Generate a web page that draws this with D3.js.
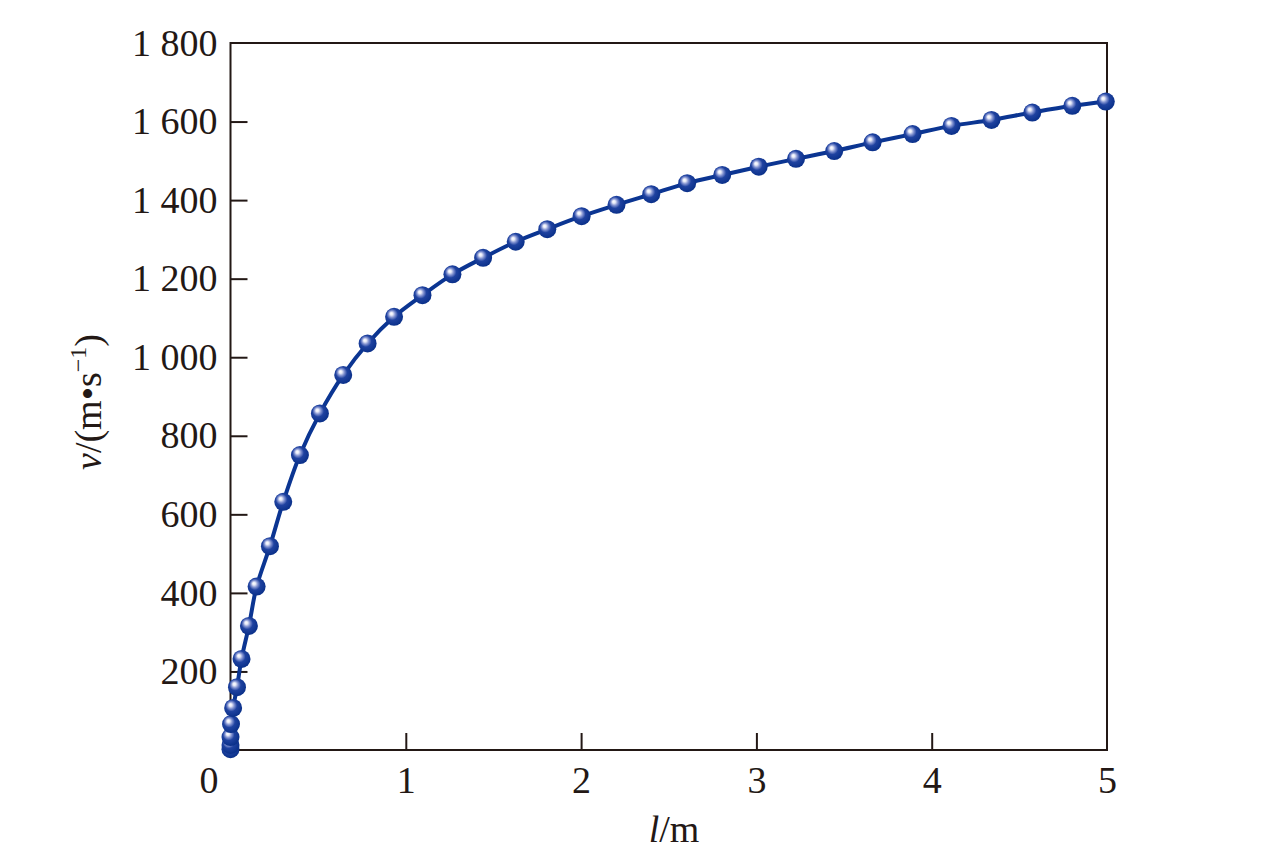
<!DOCTYPE html>
<html>
<head>
<meta charset="utf-8">
<script src="https://cdn.jsdelivr.net/npm/d3@7"></script>
<style>
  html, body { margin: 0; padding: 0; background: #fff; }
  svg { display: block; }
  text { font-family: "Liberation Serif", "Times New Roman", Times, serif; fill: #231815; }
</style>
</head>
<body>
<svg id="chart" width="1276" height="849"></svg>
<script>
// Data
const lengths = [0, 0, 0, 0.003, 0.015, 0.037, 0.063, 0.105, 0.149, 0.225, 0.301, 0.396, 0.510, 0.643, 0.782, 0.933, 1.095, 1.266, 1.441, 1.627, 1.807, 2.003, 2.202, 2.400, 2.605, 2.805, 3.013, 3.226, 3.444, 3.663, 3.891, 4.113, 4.341, 4.574, 4.802, 4.993];
const velocities = [2, 13, 33, 66, 107, 160, 232, 316, 416, 519, 632, 751, 857, 955, 1035, 1103, 1158, 1211, 1253, 1294, 1326, 1359, 1388, 1415, 1443, 1464, 1485, 1505, 1525, 1547, 1568, 1589, 1604, 1623, 1640, 1651];
const xTicks = [0, 1, 2, 3, 4, 5];
const yTicks = [200, 400, 600, 800, 1000, 1200, 1400, 1600, 1800];

const data = lengths.map((l, i) => ({ l, v: velocities[i] }));

const svg = d3.select("#chart");
const pLeft = 230.5, pRight = 1107, pTop = 43, pBottom = 750;
const ink = "#231815";
const blue = "#0b3592";
const serif = '"Liberation Serif", "Times New Roman", Times, serif';

const x = d3.scaleLinear().domain([0, 5]).range([pLeft, pRight]);
const y = d3.scaleLinear().domain([0, 1800]).range([pBottom, pTop]);

const defs = svg.append("defs");
const grad = defs.append("radialGradient").attr("id", "ball")
  .attr("cx", "45%").attr("cy", "42%").attr("r", "58%").attr("fx", "34%").attr("fy", "32%");
grad.append("stop").attr("offset", "0%").attr("stop-color", "#ffffff");
grad.append("stop").attr("offset", "14%").attr("stop-color", "#e8ebf8");
grad.append("stop").attr("offset", "32%").attr("stop-color", "#8595d2");
grad.append("stop").attr("offset", "55%").attr("stop-color", "#1f42a0");
grad.append("stop").attr("offset", "100%").attr("stop-color", "#0a3089");

// Axes (inward ticks)
const fontSize = 38;
const xAxis = d3.axisBottom(x).tickValues(xTicks)
  .tickSizeInner(-17).tickSizeOuter(0).tickPadding(16).tickFormat(d3.format("d"));
const gx = svg.append("g").attr("transform", `translate(0,${pBottom})`).call(xAxis)
  .attr("font-family", serif);
gx.select(".domain").remove();
gx.selectAll(".tick line").attr("stroke", ink).attr("stroke-width", 2)
  .attr("display", d => (d === 0 || d === 5) ? "none" : null);
gx.selectAll(".tick text").attr("font-size", fontSize).attr("fill", ink)
  .attr("x", d => d === 0 ? -22 : 0);

const yAxis = d3.axisLeft(y).tickValues(yTicks)
  .tickSizeInner(-17).tickSizeOuter(0).tickPadding(13)
  .tickFormat(d => {
    const s = String(d);
    return s.length > 3 ? s.slice(0, s.length - 3) + " " + s.slice(-3) : s;
  });
const gy = svg.append("g").attr("transform", `translate(${pLeft},0)`).call(yAxis)
  .attr("font-family", serif);
gy.select(".domain").remove();
gy.selectAll(".tick line").attr("stroke", ink).attr("stroke-width", 2)
  .attr("display", d => d === 1800 ? "none" : null);
gy.selectAll(".tick text").attr("font-size", fontSize).attr("fill", ink);

// Frame
svg.append("rect").attr("x", pLeft).attr("y", pTop)
  .attr("width", pRight - pLeft).attr("height", pBottom - pTop)
  .attr("fill", "none").attr("stroke", ink).attr("stroke-width", 2);

// Curve
const line = d3.line().x(d => x(d.l)).y(d => y(d.v)).curve(d3.curveCatmullRom.alpha(0.5));
svg.append("path").datum(data).attr("d", line)
  .attr("fill", "none").attr("stroke", blue).attr("stroke-width", 4);

// Markers
svg.append("g").selectAll("circle").data(data).join("circle")
  .attr("cx", d => x(d.l)).attr("cy", d => y(d.v)).attr("r", 9)
  .attr("fill", "url(#ball)");

// Axis titles
const xt = svg.append("text").attr("x", 674).attr("y", 842)
  .attr("text-anchor", "middle").attr("font-size", fontSize).attr("font-family", serif);
xt.append("tspan").attr("font-style", "italic").text("l");
xt.append("tspan").text("/m");

const yt = svg.append("text")
  .attr("transform", "translate(101,402) rotate(-90)")
  .attr("text-anchor", "middle").attr("font-size", fontSize).attr("font-family", serif);
yt.append("tspan").attr("font-style", "italic").text("v");
yt.append("tspan").text("/(m\u2022s");
yt.append("tspan").attr("font-size", 24).attr("dy", -15).text("\u22121");
yt.append("tspan").attr("dy", 15).text(")");
</script>
</body>
</html>
